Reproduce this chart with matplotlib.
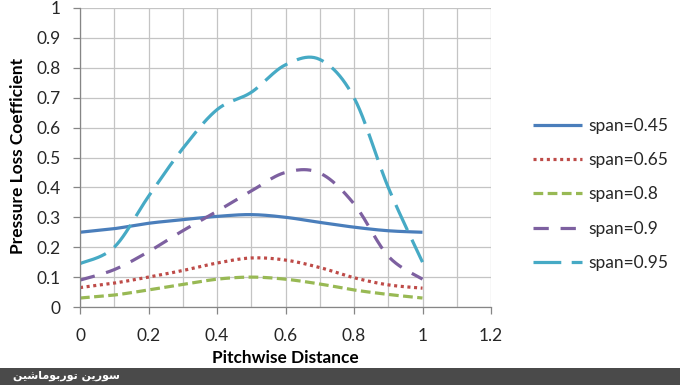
import numpy as np
import matplotlib
matplotlib.use("Agg")
import matplotlib.pyplot as plt

plt.rcParams['font.family'] = ['Lato', 'DejaVu Sans']
plt.rcParams['lines.scale_dashes'] = False

# ---- data ----
pitch = [0.0, 0.1, 0.2, 0.3, 0.4, 0.5, 0.6, 0.7, 0.8, 0.9, 1.0]
span_045 = [0.250, 0.262, 0.280, 0.292, 0.303, 0.309, 0.300, 0.283, 0.267, 0.255, 0.250]
span_065 = [0.065, 0.080, 0.100, 0.122, 0.147, 0.164, 0.157, 0.132, 0.098, 0.074, 0.063]
span_08 = [0.030, 0.040, 0.057, 0.075, 0.093, 0.100, 0.093, 0.077, 0.057, 0.042, 0.030]
span_09 = [0.090, 0.125, 0.185, 0.255, 0.320, 0.388, 0.450, 0.448, 0.345, 0.170, 0.093]
span_095 = [0.145, 0.200, 0.370, 0.530, 0.660, 0.718, 0.810, 0.828, 0.700, 0.400, 0.150]

labels = ['span=0.45', 'span=0.65', 'span=0.8', 'span=0.9', 'span=0.95']
colors = ['#4A7EBB', '#BE4B48', '#98B954', '#7D60A0', '#46AAC5']
x_ticks = [0, 0.2, 0.4, 0.6, 0.8, 1, 1.2]
x_tick_labels = ['0', '0.2', '0.4', '0.6', '0.8', '1', '1.2']
y_ticks = [0, 0.1, 0.2, 0.3, 0.4, 0.5, 0.6, 0.7, 0.8, 0.9, 1]
y_tick_labels = ['0', '0.1', '0.2', '0.3', '0.4', '0.5', '0.6', '0.7', '0.8', '0.9', '1']
watermark = "\uFEE6\uFBFF\uFEB7\uFE8E\uFEE3\uFEEE\uFE91\uFEAD\uFEEE\uFE97 \uFEE6\uFBFE\uFEAD\uFEEE\uFEB3"


def smooth(x, y, n=24):
    """Excel-like smoothed line (Bezier through points, Catmull-Rom tangents)."""
    x = np.asarray(x, float)
    y = np.asarray(y, float)
    px = np.concatenate([[x[0]], x, [x[-1]]])
    py = np.concatenate([[y[0]], y, [y[-1]]])
    xs, ys = [], []
    t = np.linspace(0, 1, n, endpoint=False)
    for i in range(1, len(px) - 2):
        p0 = np.array([px[i], py[i]])
        p3 = np.array([px[i + 1], py[i + 1]])
        p1 = p0 + (np.array([px[i + 1], py[i + 1]]) - np.array([px[i - 1], py[i - 1]])) / 6
        p2 = p3 - (np.array([px[i + 2], py[i + 2]]) - np.array([px[i], py[i]])) / 6
        b = ((1 - t) ** 3)[:, None] * p0 + (3 * (1 - t) ** 2 * t)[:, None] * p1 \
            + (3 * (1 - t) * t ** 2)[:, None] * p2 + (t ** 3)[:, None] * p3
        xs.extend(b[:, 0]); ys.extend(b[:, 1])
    xs.append(x[-1]); ys.append(y[-1])
    return np.array(xs), np.array(ys)


fig = plt.figure(figsize=(6.8, 3.85), dpi=100)
ax = fig.add_axes([80 / 680, 1 - 307 / 385, (491 - 80) / 680, (307 - 8) / 385])

series = [span_045, span_065, span_08, span_09, span_095]
styles = [
    dict(linestyle='-'),
    dict(linestyle=(0, (2.2, 2.6))),
    dict(linestyle=(0, (7, 3.2))),
    dict(linestyle=(0, (11, 8.5))),
    dict(linestyle=(0, (20, 7.5))),
]
handles = []
for vals, lab, col, st in zip(series, labels, colors, styles):
    sx, sy = smooth(pitch, vals)
    h, = ax.plot(sx, sy, color=col, lw=2.3, label=lab, solid_capstyle='butt',
                 dash_capstyle='butt', **st)
    handles.append(h)

ax.set_xlim(0, 1.2)
ax.set_ylim(0, 1)
ax.set_xticks(x_ticks)
ax.set_xticklabels(x_tick_labels)
ax.set_xticks(np.arange(0.1, 1.2, 0.2), minor=True)
ax.set_yticks(y_ticks)
ax.set_yticklabels(y_tick_labels)
ax.grid(True, which='both', color='#C4C4C4', lw=0.9)
ax.set_axisbelow(True)
for s in ['top', 'right']:
    ax.spines[s].set_visible(False)
for s in ['left', 'bottom']:
    ax.spines[s].set_color('#868686')
    ax.spines[s].set_linewidth(0.9)
ax.tick_params(axis='both', which='major', direction='out', length=5, color='#868686',
               labelsize=12.5, labelcolor='#262626', width=0.9)
ax.tick_params(axis='x', which='major', pad=10)
ax.tick_params(axis='y', which='major', pad=9)
ax.tick_params(axis='x', which='minor', length=0)

fig.text(18 / 680, 1 - 156 / 385, 'Pressure Loss Coefficient', rotation=90,
         ha='center', va='center', fontsize=12.5, fontweight='bold', color='black')
fig.text(285 / 680, 1 - 358 / 385, 'Pitchwise Distance',
         ha='center', va='center', fontsize=12.4, fontweight='bold', color='black')

leg = fig.legend(handles=handles, labels=labels, loc='upper left',
                 bbox_to_anchor=(533 / 680, 1 - 118 / 385), frameon=False,
                 fontsize=12.5, handlelength=2.85, handletextpad=0.35,
                 labelspacing=1.05, borderaxespad=0, borderpad=0)
for t in leg.get_texts():
    t.set_color('#262626')

# bottom dark band with watermark
fig.patches.append(plt.Rectangle((0, 0), 1, 17.5 / 385, transform=fig.transFigure,
                                 facecolor='#4A4A4A', edgecolor='none', zorder=5))
fig.text(13 / 680, 9 / 385, watermark, ha='left', va='center', color='white',
         fontsize=8, fontweight='bold', family=['DejaVu Sans'], zorder=6)

fig.savefig('out.png', dpi=100)
